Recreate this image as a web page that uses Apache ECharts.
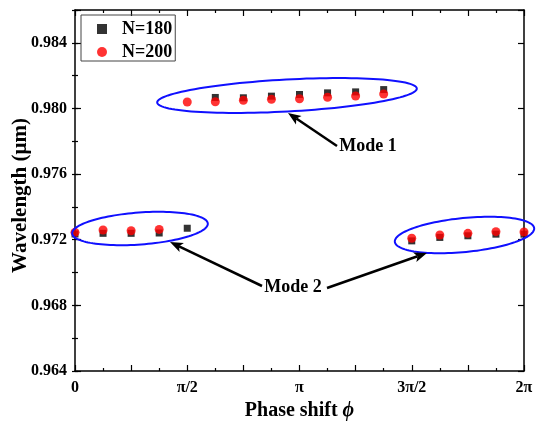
<!DOCTYPE html>
<html><head><meta charset="utf-8">
<script src="https://cdn.jsdelivr.net/npm/echarts@6/dist/echarts.min.js"></script>
<style>html,body{margin:0;padding:0;background:#fff}#c{width:551px;height:423px}</style>
</head><body><div id="c"></div>
<script>
// x values in units of pi/8
const phase180 = [0,1,2,3,4, 5,6,7,8,9,10,11, 12,13,14,15,16];
const wl180 = [0.97235,0.97239,0.97239,0.97241,0.97270, 0.98067,0.98065,0.98075,0.98085,0.98095,0.98101,0.98115, 0.97193,0.97214,0.97224,0.97234,0.97234];
const phase200 = [0,1,2,3, 4,5,6,7,8,9,10,11, 12,13,14,15,16];
const wl200 = [0.97245,0.97259,0.97255,0.97263, 0.98039,0.98041,0.98050,0.98056,0.98059,0.98068,0.98076,0.98088, 0.97209,0.97229,0.97239,0.97249,0.97247];
const xTickValues = [0,4,8,12,16];
const xTickLabels = ['0','π/2','π','3π/2','2π'];
const seriesNames = ['N=180','N=200'];

const FONT = 'Liberation Serif';
const chart = echarts.init(document.getElementById('c'), null, {renderer:'canvas'});

function zip(xs, ys){ return xs.map((x,i)=>[x, ys[i]]); }

const axisLineStyle = {color:'#000', width:1.5};
const tickStyle = {color:'#000', width:1.2};
function xAxisCfg(pos, showLabel){
  return {
    type:'value', min:0, max:16, interval:2, position:pos,
    axisLine:{show:true, onZero:false, lineStyle:axisLineStyle},
    axisTick:{show:true, inside:true, length:6, lineStyle:tickStyle},
    minorTick:{show:true, splitNumber:2, length:3, lineStyle:tickStyle},
    splitLine:{show:false}, minorSplitLine:{show:false},
    axisLabel:{show:showLabel, margin:9, color:'#000', fontFamily:FONT, fontWeight:'bold', fontSize:16,
      formatter:function(v){ const i = xTickValues.indexOf(v); return i>=0 ? xTickLabels[i] : ''; }},
    name: showLabel ? 'Phase shift {i|ϕ}' : '',
    nameLocation:'middle', nameGap:25,
    nameTextStyle:{color:'#000', fontFamily:FONT, fontWeight:'bold', fontSize:20,
      rich:{i:{fontFamily:FONT, fontWeight:'bold', fontStyle:'italic', fontSize:20, color:'#000'}}}
  };
}
function yAxisCfg(pos, showLabel){
  return {
    type:'value', min:0.964, max:0.986, interval:0.004, position:pos,
    axisLine:{show:true, onZero:false, lineStyle:axisLineStyle},
    axisTick:{show:true, inside:true, length:6, lineStyle:tickStyle},
    splitLine:{show:false},
    axisLabel:{show:showLabel, margin:8, color:'#000', fontFamily:FONT, fontWeight:'bold', fontSize:16,
      formatter:function(v){ const k = Math.round(v/0.004); return (Math.abs(k*0.004 - v) < 1e-7 && v < 0.9855) ? v.toFixed(3) : ''; }},
    name: showLabel ? 'Wavelength (μm)' : '',
    nameLocation:'middle', nameGap:44, nameMoveOverlap:false,
    nameTextStyle:{color:'#000', fontFamily:FONT, fontWeight:'bold', fontSize:21, padding:[0,10,0,0]}
  };
}
function yMinorCfg(pos){
  return {
    type:'value', min:0.964, max:0.986, interval:0.002, position:pos,
    axisLine:{show:false}, axisLabel:{show:false}, splitLine:{show:false},
    axisTick:{show:true, inside:true, length:3, lineStyle:tickStyle}
  };
}

function ellipsePts(cx, cy, a, b, deg){
  const t = deg*Math.PI/180, pts = [];
  for (let k=0;k<120;k++){
    const s = 2*Math.PI*k/120;
    const x = a*Math.cos(s), y = b*Math.sin(s);
    pts.push([cx + x*Math.cos(t) - y*Math.sin(t), cy + x*Math.sin(t) + y*Math.cos(t)]);
  }
  return pts;
}
function ellipse(cx, cy, a, b, deg){
  return {type:'polygon', z:100, shape:{points:ellipsePts(cx,cy,a,b,deg)},
    style:{fill:'none', stroke:'#1010ff', lineWidth:2}};
}
function arrow(x1,y1,x2,y2){
  const ang = Math.atan2(y2-y1, x2-x1), L = 13, W = 5;
  const bx = x2 - L*Math.cos(ang), by = y2 - L*Math.sin(ang);
  const px = -Math.sin(ang)*W, py = Math.cos(ang)*W;
  return [
    {type:'line', z:100, shape:{x1:x1,y1:y1,x2:bx+3*Math.cos(ang),y2:by+3*Math.sin(ang)}, style:{stroke:'#000', lineWidth:2.5}},
    {type:'polygon', z:100, shape:{points:[[x2,y2],[bx+px,by+py],[bx+3*Math.cos(ang),by+3*Math.sin(ang)],[bx-px,by-py]]}, style:{fill:'#000'}}
  ];
}
function label(txt, cx, cy){
  return {type:'text', z:100, x:cx, y:cy, style:{text:txt, fill:'#000', font:'bold 18px "Liberation Serif"', align:'center', verticalAlign:'middle'}};
}

const option = {
  animation:false,
  backgroundColor:'#fff',
  grid:{left:75, right:27, top:10, bottom:52, containLabel:false, outerBoundsMode:'none'},
  xAxis:[xAxisCfg('bottom', true), xAxisCfg('top', false)],
  yAxis:[yAxisCfg('left', true), yAxisCfg('right', false), yMinorCfg('left'), yMinorCfg('right')],
  legend:{
    left:81, top:15, orient:'vertical', itemWidth:10, itemHeight:10, itemGap:5,
    borderColor:'#444', borderWidth:1, padding:[5,3,0,16],
    textStyle:{color:'#000', fontFamily:FONT, fontWeight:'bold', fontSize:18, padding:[0,0,0,10]},
    data:seriesNames
  },
  series:[
    {name:seriesNames[0], type:'scatter', symbol:'rect', symbolSize:7, itemStyle:{color:'#000'}, data:zip(phase180, wl180), z:2},
    {name:seriesNames[1], type:'scatter', symbol:'circle', symbolSize:9, itemStyle:{color:'#ff0000'}, data:zip(phase200, wl200), z:3}
  ],
  graphic:[]
};
chart.setOption(option);

const g = [
  ellipse(287, 95.5, 130, 16, -3.1),
  ellipse(140, 228.5, 68, 16, -4.2),
  ellipse(464.5, 235, 70, 17, -5.6),
  ...arrow(337,146, 288,113),
  ...arrow(262,286, 170,242),
  ...arrow(327,288, 427,253),
  label('Mode 1', 368, 146),
  label('Mode 2', 293, 287)
];
chart.setOption({graphic:g});
</script>
</body></html>
